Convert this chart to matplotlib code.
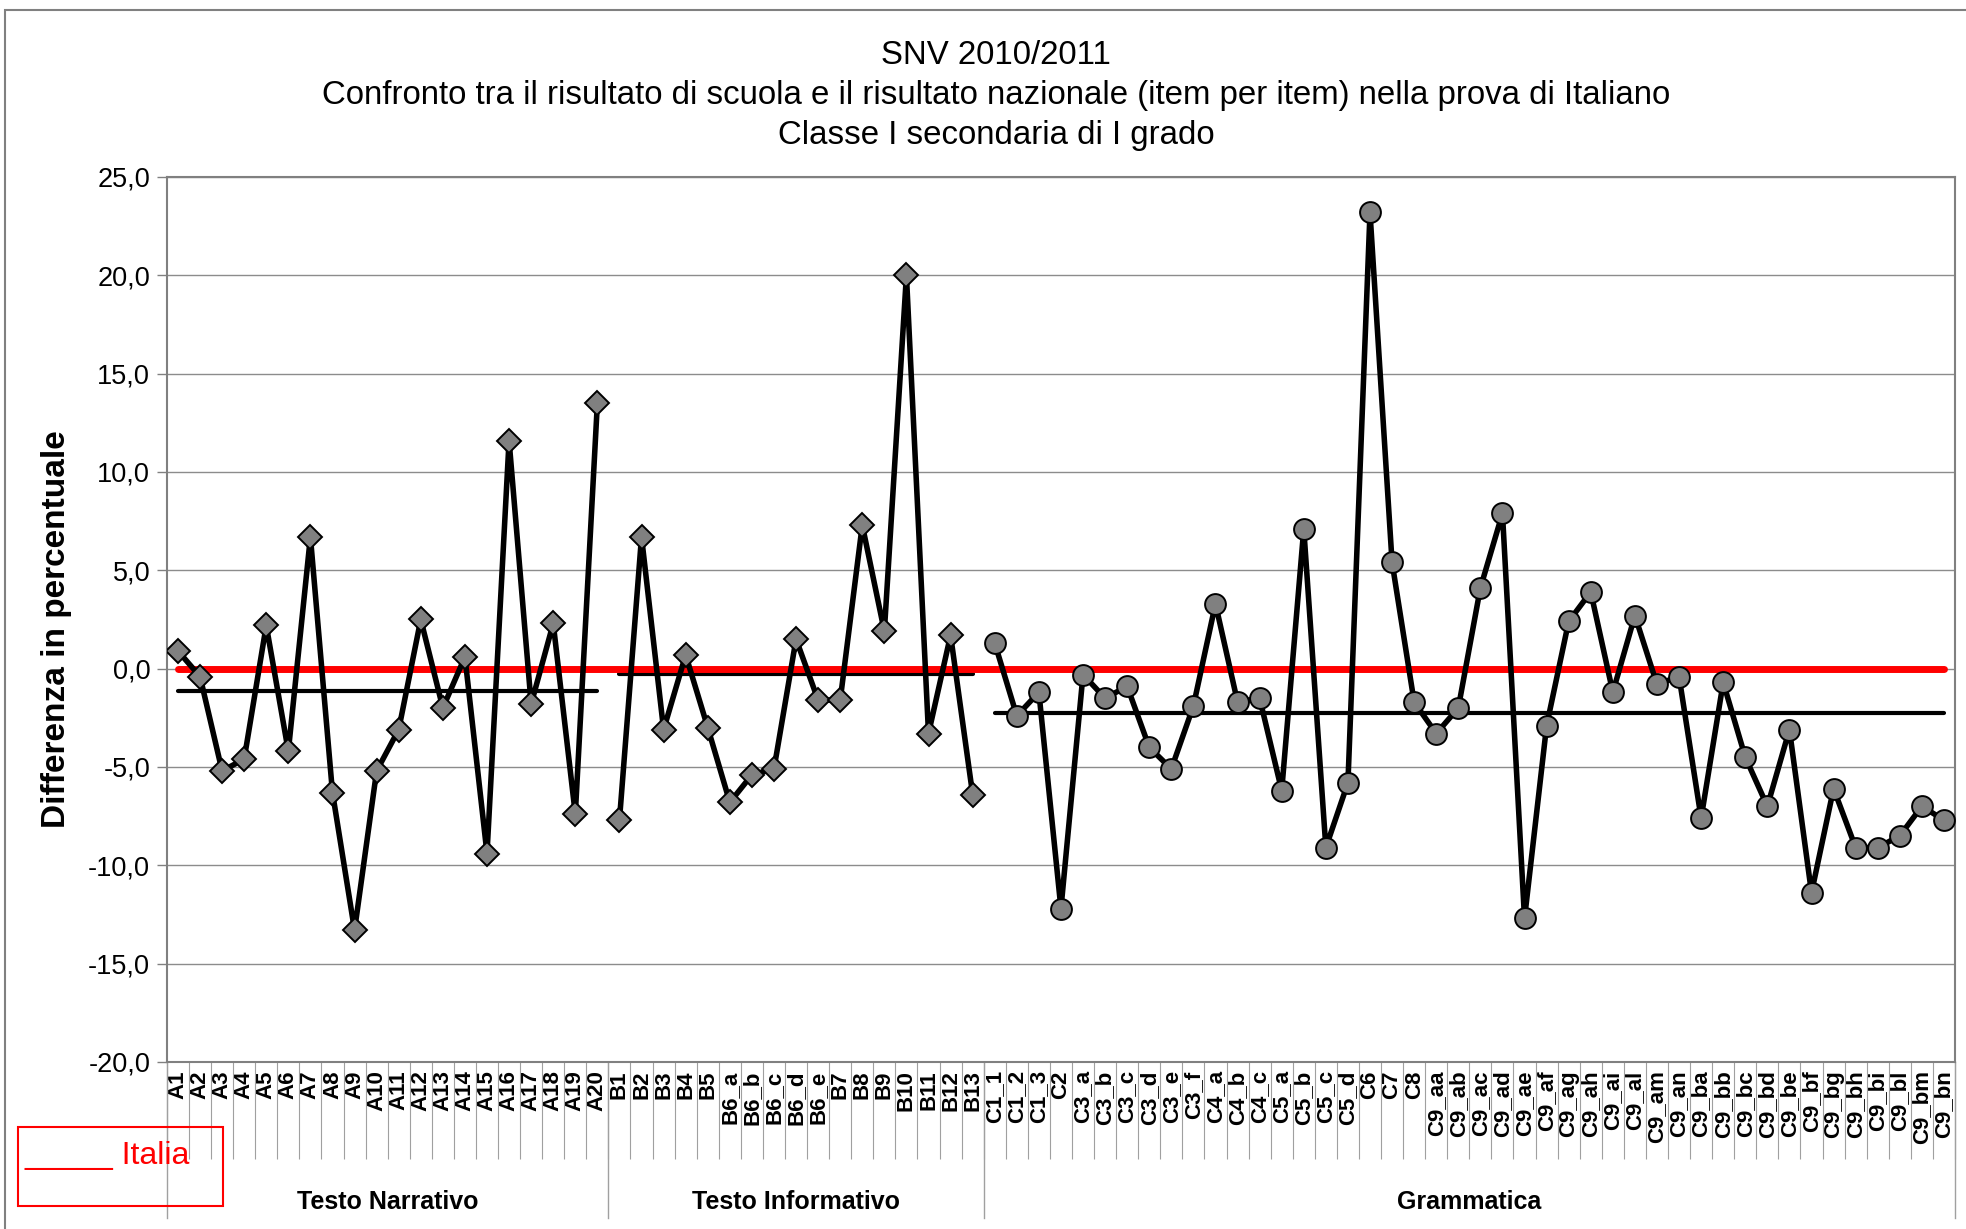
import numpy as np
import matplotlib.pyplot as plt
from matplotlib.patches import Rectangle

plt.rcParams['font.family'] = ['Liberation Sans', 'DejaVu Sans']

# item labels and school-vs-national differences (%)
narr_labels = ['A1', 'A2', 'A3', 'A4', 'A5', 'A6', 'A7', 'A8', 'A9', 'A10',
               'A11', 'A12', 'A13', 'A14', 'A15', 'A16', 'A17', 'A18', 'A19', 'A20']
narr_values = [0.9, -0.4, -5.2, -4.6, 2.2, -4.2, 6.7, -6.3, -13.3, -5.2,
               -3.1, 2.5, -2.0, 0.6, -9.4, 11.6, -1.8, 2.3, -7.4, 13.5]

info_labels = ['B1', 'B2', 'B3', 'B4', 'B5', 'B6_a', 'B6_b', 'B6_c', 'B6_d', 'B6_e',
               'B7', 'B8', 'B9', 'B10', 'B11', 'B12', 'B13']
info_values = [-7.7, 6.7, -3.1, 0.7, -3.0, -6.8, -5.4, -5.1, 1.5, -1.6,
               -1.6, 7.3, 1.9, 20.0, -3.3, 1.7, -6.4]

gram_labels = ['C1_1', 'C1_2', 'C1_3', 'C2', 'C3_a', 'C3_b', 'C3_c', 'C3_d', 'C3_e', 'C3_f',
               'C4_a', 'C4_b', 'C4_c', 'C5_a', 'C5_b', 'C5_c', 'C5_d', 'C6', 'C7', 'C8',
               'C9_aa', 'C9_ab', 'C9_ac', 'C9_ad', 'C9_ae', 'C9_af', 'C9_ag', 'C9_ah',
               'C9_ai', 'C9_al', 'C9_am', 'C9_an', 'C9_ba', 'C9_bb', 'C9_bc', 'C9_bd',
               'C9_be', 'C9_bf', 'C9_bg', 'C9_bh', 'C9_bi', 'C9_bl', 'C9_bm', 'C9_bn']
gram_values = [1.3, -2.4, -1.2, -12.2, -0.3, -1.5, -0.9, -4.0, -5.1, -1.9,
               3.3, -1.7, -1.5, -6.2, 7.1, -9.1, -5.8, 23.2, 5.4, -1.7,
               -3.3, -2.0, 4.1, 7.9, -12.7, -2.9, 2.4, 3.9,
               -1.2, 2.7, -0.8, -0.4, -7.6, -0.7, -4.5, -7.0,
               -3.1, -11.4, -6.1, -9.1, -9.1, -8.5, -7.0, -7.7]

group_names = ['Testo Narrativo', 'Testo Informativo', 'Grammatica']

all_labels = narr_labels + info_labels + gram_labels
n = len(all_labels)
x_all = np.arange(n)

fig = plt.figure(figsize=(19.66, 12.29), dpi=100)
ax = fig.add_axes([0.0849, 0.1359, 0.9095, 0.7201])

series = [(narr_values, 'D', 12), (info_values, 'D', 12), (gram_values, 'o', 15)]
start = 0
bounds = [-0.5]
centers = []
for vals, mk, ms in series:
    x = np.arange(start, start + len(vals))
    ax.plot(x, vals, color='black', lw=4, marker=mk, ms=ms, mfc='#808080',
            mec='black', mew=1.4, zorder=4)
    m = np.mean(vals)
    ax.plot([x[0], x[-1]], [m, m], color='black', lw=3, solid_capstyle='round', zorder=2)
    centers.append((x[0] + x[-1]) / 2)
    start += len(vals)
    bounds.append(start - 0.5)

# Italia reference line
ax.plot(x_all, np.zeros(n), color='red', lw=5, solid_capstyle='round', zorder=3)

ax.set_xlim(-0.5, n - 0.5)
ax.set_ylim(-20, 25)
yt = np.arange(-20, 26, 5)
ax.set_yticks(yt)
ax.set_yticklabels([f'{v:.1f}'.replace('.', ',') for v in yt])
ax.yaxis.grid(True, color='#8c8c8c', lw=1)
ax.set_axisbelow(True)

ax.set_xticks(x_all)
ax.set_xticklabels(all_labels, rotation=90, fontsize=16, fontweight='bold')
ax.set_xticks(np.arange(-0.5, n, 1), minor=True)
ax.tick_params(axis='x', which='major', length=0, pad=6)
ax.tick_params(axis='x', which='minor', length=70, width=0.8, color='#a0a0a0', direction='out')
ax.tick_params(axis='y', length=7, width=1, color='#808080', labelsize=19.5, pad=5)
for sp in ax.spines.values():
    sp.set_color('#808080')
    sp.set_linewidth(1.5)

trans = ax.get_xaxis_transform()
for b in bounds:
    ax.plot([b, b], [0, -0.176], transform=trans, color='#a0a0a0', lw=1, clip_on=False)
for c, name in zip(centers, group_names):
    ax.text(c, -0.158, name, transform=trans, ha='center', va='center',
            fontsize=18, fontweight='bold')

fig.text(0.0285, 0.4882, 'Differenza in percentuale', rotation=90, fontsize=24,
         fontweight='bold', ha='center', va='center')

fig.text(0.5066, 0.9548, 'SNV 2010/2011', fontsize=23.8, ha='center', va='center')
fig.text(0.5066, 0.9222, 'Confronto tra il risultato di scuola e il risultato nazionale '
         '(item per item) nella prova di Italiano', fontsize=23.8, ha='center', va='center')
fig.text(0.5066, 0.8896, 'Classe I secondaria di I grado', fontsize=23.8, ha='center', va='center')

# legend box
fig.add_artist(Rectangle((18 / 1966, 1 - 1206 / 1229), 205 / 1966, 79 / 1229,
                         transform=fig.transFigure, fill=False, ec='red', lw=1.5))
fig.text(24 / 1966, 1 - 1164 / 1229, '_____ Italia', color='red', fontsize=23, va='baseline')

# chart border
fig.add_artist(Rectangle((5 / 1966, -0.1), 1.2, 1.1 - 10 / 1229,
                         transform=fig.transFigure, fill=False, ec='#808080', lw=1.5))

fig.savefig('out.png', dpi=100)
